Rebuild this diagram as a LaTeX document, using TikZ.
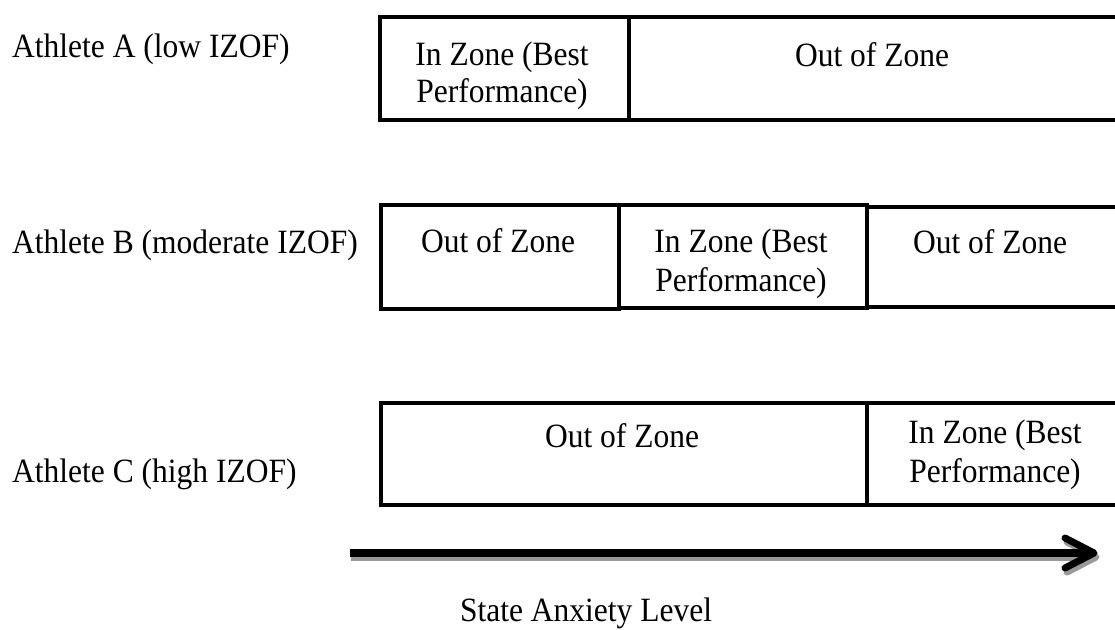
\documentclass[tikz,border=0pt]{standalone}
\usepackage{fontspec}
\usepackage{graphicx}
\setmainfont{Liberation Serif}
\newcommand{\tallt}[1]{\scalebox{1}[1.08]{#1}}
\begin{document}
\begin{tikzpicture}[x=1pt,y=-1pt,
  cell/.style={draw,line width=4pt,inner sep=0pt,anchor=north west},
  txt/.style={inner sep=0pt,anchor=base,font=\fontsize{31.5}{39}\selectfont},
  lbl/.style={inner sep=0pt,anchor=base west,font=\fontsize{31.5}{39}\selectfont},
  axis/.style={line width=8pt},
  head/.style={line width=7pt,line cap=round,line join=round},
  shadowline/.style={draw=black!40}]
\useasboundingbox[fill=white] (0,0) rectangle (1115,629);
% Row A
\node[cell,minimum width=249pt,minimum height=103pt] (a1) at (378,15) {};
\node[cell,minimum width=495pt,minimum height=103pt] (a2) at (627,15) {};
\node[lbl] (la) at (12,57) {\tallt{Athlete A (low IZOF)}};
\node[txt] (ta1) at (502,65) {\tallt{In Zone (Best}};
\node[txt] (ta1b) at (502,102) {\tallt{Performance)}};
\node[txt] (ta2) at (872,66) {\tallt{Out of Zone}};
% Row B
\node[cell,minimum width=238pt,minimum height=104pt] (b1) at (379,203) {};
\node[cell,minimum width=248pt,minimum height=103pt] (b2) at (617,203) {};
\node[cell,minimum width=257pt,minimum height=100pt] (b3) at (865,205) {};
\node[lbl] (lb) at (12,253) {\tallt{Athlete B (moderate IZOF)}};
\node[txt] (tb1) at (498,252) {\tallt{Out of Zone}};
\node[txt] (tb2) at (741,252) {\tallt{In Zone (Best}};
\node[txt] (tb2b) at (741,291) {\tallt{Performance)}};
\node[txt] (tb3) at (990,253) {\tallt{Out of Zone}};
% Row C
\node[cell,minimum width=486pt,minimum height=102pt] (c1) at (379,401) {};
\node[cell,minimum width=257pt,minimum height=102pt] (c2) at (865,401) {};
\node[lbl] (lc) at (12,482) {\tallt{Athlete C (high IZOF)}};
\node[txt] (tc1) at (622,447) {\tallt{Out of Zone}};
\node[txt] (tc2) at (995,443) {\tallt{In Zone (Best}};
\node[txt] (tc2b) at (995,482) {\tallt{Performance)}};
% Axis arrow
\coordinate (s0) at (350,553);
\coordinate (s1) at (1090,553);
\coordinate (h0) at (1065,538);
\coordinate (h1) at (1094,553);
\coordinate (h2) at (1065,568);
\coordinate (z0) at (351,557);
\coordinate (z1) at (1091,557);
\coordinate (g0) at (1067,542);
\coordinate (g1) at (1096,557);
\coordinate (g2) at (1067,572);
\draw[axis,shadowline] (z0) -- (z1);
\draw[head,shadowline] (g0) -- (g1) -- (g2);
\draw[axis] (s0) -- (s1);
\draw[head] (h0) -- (h1) -- (h2);
\node[txt] (axlbl) at (586,621) {\tallt{State Anxiety Level}};
\end{tikzpicture}
\end{document}
